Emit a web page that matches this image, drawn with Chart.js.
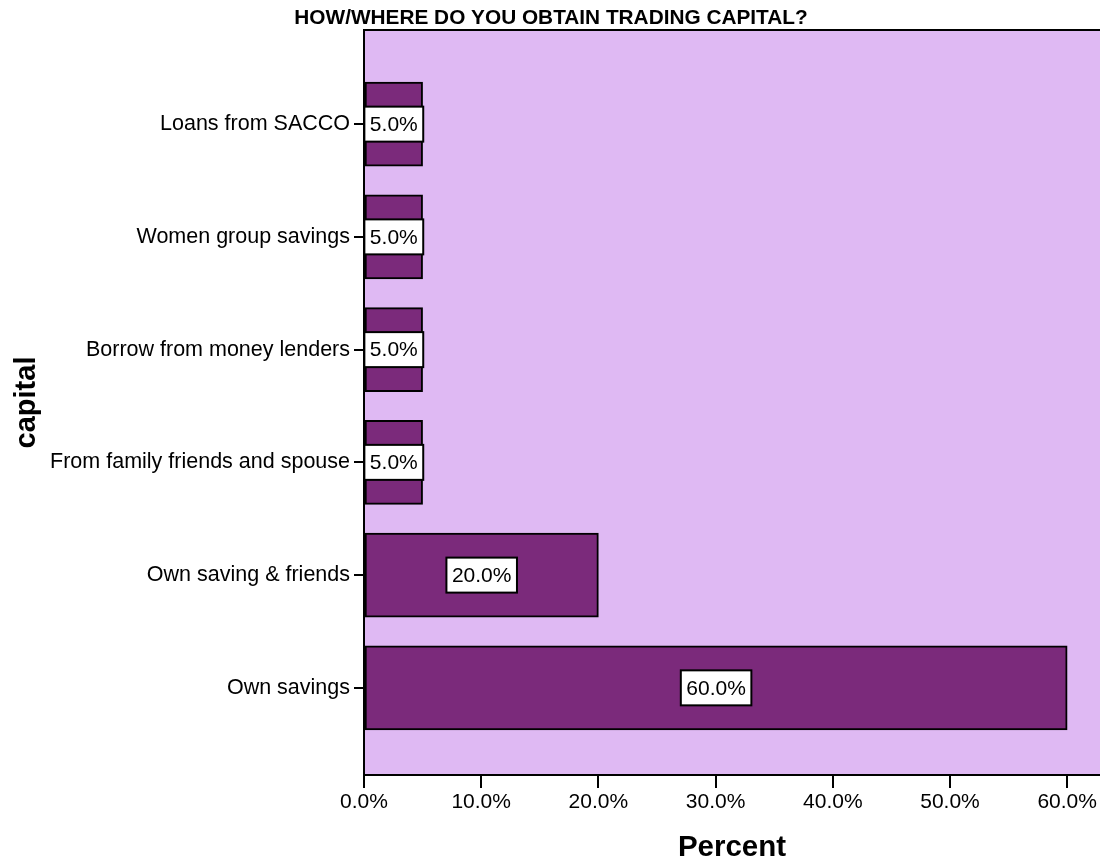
<!DOCTYPE html>
<html>
<head>
<meta charset="utf-8">
<script src="https://cdn.jsdelivr.net/npm/chart.js@4.4.1/dist/chart.umd.min.js"></script>
<style>
html,body{margin:0;padding:0;background:#fff;}
#wrap{width:1100px;height:867px;position:relative;}
</style>
</head>
<body>
<div id="wrap"><canvas id="c" width="1100" height="867"></canvas></div>
<script>
const chartTitle = 'HOW/WHERE DO YOU OBTAIN TRADING CAPITAL?';
const categories = ['Own savings', 'Own saving & friends', 'From family friends and spouse', 'Borrow from money lenders', 'Women group savings', 'Loans from SACCO'];
const percents = [60, 20, 5, 5, 5, 5];
const xTicks = [0, 10, 20, 30, 40, 50, 60];
const xTitle = 'Percent';
const yTitle = 'capital';

const FONT = '"Liberation Sans", Arial, sans-serif';
const BG = '#DFB9F3';
const BAR = '#7B2A7B';

const points = percents.map((v, i) => ({x: v, y: i}));

const frame = {
  id: 'frame',
  beforeDraw(chart) {
    const {ctx, chartArea: a} = chart;
    ctx.save();
    ctx.fillStyle = BG;
    ctx.fillRect(a.left, a.top, a.right - a.left, a.bottom - a.top);
    ctx.strokeStyle = '#000';
    ctx.lineWidth = 2;
    ctx.beginPath();
    ctx.moveTo(a.left, a.top);
    ctx.lineTo(a.right, a.top);
    ctx.stroke();
    ctx.restore();
  },
  afterDraw(chart) {
    const {ctx} = chart;
    ctx.save();
    ctx.fillStyle = '#000';
    ctx.font = 'bold 20.8px ' + FONT;
    ctx.textAlign = 'center';
    ctx.textBaseline = 'middle';
    ctx.fillText(chartTitle, 551, 18);
    // value labels
    const meta = chart.getDatasetMeta(0);
    ctx.font = '21px ' + FONT;
    meta.data.forEach((bar, i) => {
      const txt = percents[i].toFixed(1) + '%';
      const cx = (bar.x + bar.base) / 2;
      const cy = bar.y;
      const w = ctx.measureText(txt).width + 11;
      const h = 35;
      ctx.fillStyle = '#fff';
      ctx.fillRect(cx - w / 2, cy - h / 2, w, h);
      ctx.strokeStyle = '#000';
      ctx.lineWidth = 2;
      ctx.strokeRect(cx - w / 2, cy - h / 2, w, h);
      ctx.fillStyle = '#000';
      ctx.fillText(txt, cx, cy + 1);
    });
    ctx.restore();
  }
};

new Chart(document.getElementById('c'), {
  type: 'bar',
  data: {
    datasets: [{
      data: points,
      backgroundColor: BAR,
      borderColor: '#000',
      borderWidth: 2,
      borderSkipped: false,
      barThickness: 84
    }]
  },
  options: {
    indexAxis: 'y',
    responsive: false,
    animation: false,
    devicePixelRatio: 1,
    layout: {padding: {top: 30, right: 0, bottom: 0, left: 0}},
    plugins: {legend: {display: false}, tooltip: {enabled: false}, title: {display: false}},
    scales: {
      x: {
        type: 'linear',
        min: 0,
        max: 62.8,
        afterFit(s) { s.height = 92; },
        afterBuildTicks(s) { s.ticks = xTicks.map(v => ({value: v})); },
        ticks: {
          includeBounds: false,
          color: '#000',
          font: {family: FONT, size: 21},
          padding: 2,
          maxRotation: 0,
          callback: v => Number(v).toFixed(1) + '%'
        },
        grid: {drawOnChartArea: false, color: '#000', tickLength: 13, lineWidth: 2},
        border: {display: true, color: '#000', width: 2},
        title: {display: true, text: xTitle, color: '#000', font: {family: FONT, size: 29.5, weight: 'bold'}, padding: {top: 0, bottom: 1}}
      },
      y: {
        type: 'linear',
        offset: false,
        min: -0.773,
        max: 5.835,
        afterFit(s) { s.width = 364; },
        afterBuildTicks(s) { s.ticks = categories.map((c, i) => ({value: i})); },
        ticks: {
          includeBounds: false,
          color: '#000',
          font: {family: FONT, size: 21.5},
          padding: 4,
          callback: v => categories[v] || ''
        },
        grid: {offset: false, drawOnChartArea: false, color: '#000', tickLength: 10, lineWidth: 2},
        border: {display: true, color: '#000', width: 2},
        title: {display: true, text: yTitle, color: '#000', font: {family: FONT, size: 29, weight: 'bold'}, padding: {top: 10, bottom: 0}}
      }
    }
  },
  plugins: [frame]
});
</script>
</body>
</html>
